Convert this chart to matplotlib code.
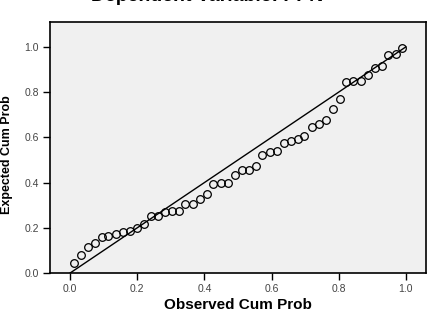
import numpy as np
import matplotlib.pyplot as plt

plt.rc('font', **{'family': 'sans-serif', 'sans-serif': ['Liberation Sans', 'DejaVu Sans']})

# observed vs expected cumulative probabilities
observed = [0.010, 0.032, 0.053, 0.074, 0.094, 0.114, 0.137, 0.157, 0.179, 0.200,
            0.220, 0.241, 0.263, 0.283, 0.304, 0.324, 0.343, 0.367, 0.387, 0.407,
            0.427, 0.449, 0.471, 0.491, 0.511, 0.533, 0.554, 0.572, 0.595, 0.615,
            0.637, 0.657, 0.678, 0.698, 0.719, 0.740, 0.761, 0.782, 0.804, 0.823,
            0.844, 0.866, 0.887, 0.907, 0.929, 0.948, 0.970, 0.989]
expected = [0.046, 0.080, 0.117, 0.134, 0.161, 0.164, 0.173, 0.183, 0.186, 0.201,
            0.215, 0.252, 0.254, 0.270, 0.276, 0.276, 0.305, 0.307, 0.326, 0.350,
            0.394, 0.397, 0.400, 0.432, 0.456, 0.456, 0.472, 0.521, 0.534, 0.538,
            0.577, 0.583, 0.594, 0.608, 0.645, 0.658, 0.676, 0.727, 0.768, 0.844,
            0.848, 0.851, 0.877, 0.907, 0.915, 0.965, 0.969, 0.997]
ref_line = [0.0, 1.0]
ticks = [0.0, 0.2, 0.4, 0.6, 0.8, 1.0]

fig = plt.figure(figsize=(4.29, 3.16), dpi=100)
ax = fig.add_axes([50/429, 43/316, 376/429, 251/316])
ax.set_facecolor('#f0f0f0')

ax.plot(ref_line, ref_line, color='black', lw=1.0, zorder=2)
ax.plot(observed, expected, 'o', mfc='none', mec='black', mew=0.9, ms=5.5, zorder=3)

ax.set_xlim(-0.06, 1.06)
ax.set_ylim(0, 1.11)
ax.set_xticks(ticks)
ax.set_yticks(ticks)
ax.set_xticklabels(['%.1f' % t for t in ticks])
ax.set_yticklabels(['%.1f' % t for t in ticks])
ax.tick_params(direction='out', length=5, width=1, labelsize=7.5, labelcolor='#444444', pad=3)
for s in ax.spines.values():
    s.set_linewidth(1.2)

ax.set_xlabel('Observed Cum Prob', fontsize=11, fontweight='bold', labelpad=3)
fig.text(7/429, 1 - 155/316, 'Expected Cum Prob', rotation=90, ha='center', va='center',
         fontsize=9, fontweight='bold')

fig.text(207/429, 1 - 1/316, 'Dependent Variable: PPN', ha='center', va='baseline',
         fontsize=14, fontweight='bold')

plt.savefig('out.png', dpi=100)
